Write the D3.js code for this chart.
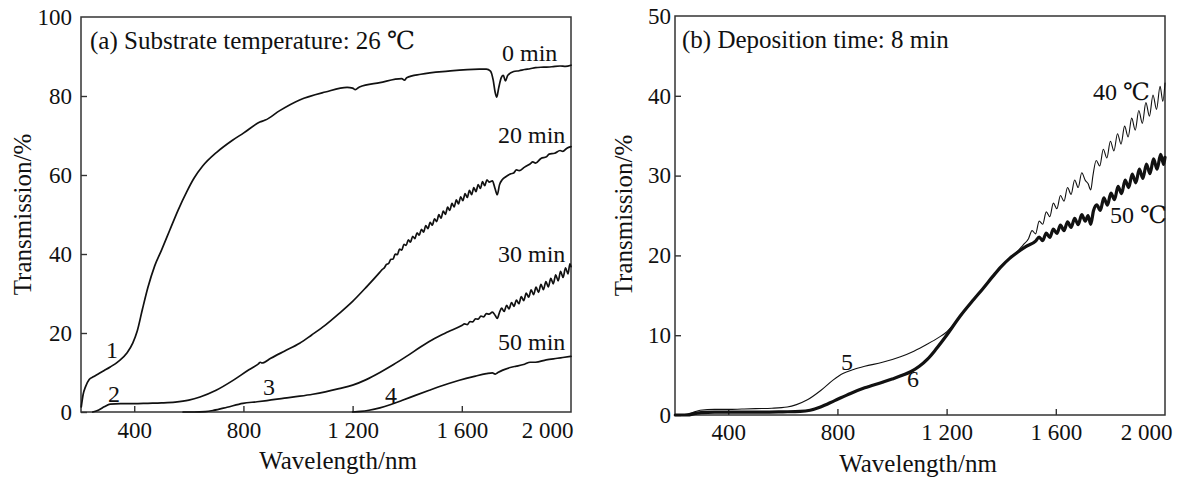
<!DOCTYPE html>
<html>
<head>
<meta charset="utf-8">
<script src="https://cdn.jsdelivr.net/npm/d3@7"></script>
<style>
  html, body { margin: 0; padding: 0; background: #fff; }
  svg { display: block; }
  text { font-family: "Liberation Serif", "DejaVu Serif", "Times New Roman", serif; fill: #111; }
</style>
</head>
<body>
<svg id="chart" width="1182" height="479"></svg>
<script>
// ---------- data ----------
const xTicks = [400, 800, 1200, 1600, 2000];
const xTickLabels = ["400", "800", "1 200", "1 600", "2 000"];
const yTicksA = [0, 20, 40, 60, 80, 100];
const yTicksB = [0, 10, 20, 30, 40, 50];

// Panel (a): substrate temperature 26 C  [wavelength nm, transmission %]
const seriesA0 = [[206,1.3],[213,4.5],[221,6.3],[235,8.2],[250,8.9],[265,9.5],[290,10.5],[312,11.4],[340,12.7],[374,15],[395,17.5],[411,20.5],[430,26],[450,31.5],[475,37],[500,41],[530,46],[560,51],[594,56],[620,59.3],[650,62.2],[703,65.8],[760,68.8],[800,70.6],[860,73.4],[880,73.9],[933,76.3],[1006,79],[1100,81],[1180,82.2],[1200,82],[1210,81.6],[1225,82.3],[1300,83.4],[1380,84.4],[1390,84.0],[1398,84.6],[1450,85.5],[1550,86.3],[1664,86.8],[1690,86.8],[1705,86.3],[1715,84],[1722,81],[1728,79.7],[1735,82],[1745,84.7],[1752,85.2],[1760,83.8],[1768,85.2],[1790,86.2],[1810,86.4],[1830,86.7],[1850,86.9],[1870,87.2],[1900,87.3],[1930,87.4],[1960,87.6],[1980,87.5],[2000,87.8]];

const seriesA20 = [[248,0],[270,0.5],[290,1.3],[312,2],[350,2.1],[400,2.1],[450,2.2],[500,2.3],[550,2.5],[600,3],[641,3.8],[700,5.5],[762,8],[820,10.7],[855,12.2],[862,12.6],[868,12.4],[900,13.6],[950,15.4],[1006,17.4],[1050,19.5],[1100,22.0],[1150,24.9],[1200,28.0],[1250,31.6],[1300,35.4],
  [1308,36.05],[1316,36.5],[1324,37.35],[1332,37.6],[1340,38.65],[1348,38.7],[1356,39.95],[1364,39.85],[1372,41.25],[1380,40.95],[1388,42.45],[1396,42.15],[1404,43.6],[1412,43.0],[1420,44.5],[1428,43.9],[1436,45.35],[1444,44.75],[1452,46.25],[1460,45.55],[1468,47.2],[1476,46.4],[1484,48.0],[1492,47.3],[1500,48.9],[1508,48.2],[1516,49.95],[1524,49.05],[1532,50.85],[1540,50.05],[1548,51.85],[1556,51.05],[1564,52.8],[1572,51.9],[1580,53.7],[1588,52.7],[1596,54.5],[1604,53.5],[1612,55.3],[1620,54.3],[1628,56.1],[1636,55.0],[1644,56.8],[1652,55.8],[1660,57.6],[1668,56.6],[1676,58.3],[1684,57.3],[1692,58.8],[1700,58.2],[1712,58.5],[1722,56.5],[1730,55.0],[1738,57.5],[1748,58.8],[1760,59.5],[1780,60.3],[1790,60.5],[1800,61.3],[1810,61.1],[1830,62.0],[1850,62.8],[1860,63.3],[1870,63.0],[1890,64.2],[1910,64.6],[1920,65.3],[1940,65.5],[1960,66.2],[1970,66.0],[1985,66.8],[2000,67.2]];

const seriesA30 = [[579,0],[620,0],[660,0.1],[690,0.4],[740,1.2],[798,2.2],[850,2.6],[886,2.9],[950,3.5],[1006,4.0],[1054,4.5],[1100,5.1],[1150,5.9],[1200,6.8],[1250,8.2],[1300,10.0],[1350,12.0],[1400,14.2],[1450,16.5],[1500,18.6],[1550,20.3],[1600,21.9],[1610,22.3],[1620,22.1],[1630,22.9],[1640,22.8],[1650,23.6],[1660,23.5],[1670,24.3],[1680,24.1],[1690,24.9],[1700,24.8],[1712,25.3],[1722,24.5],[1730,23.7],[1738,25.2],
  [1746,26.3],[1755,25.45],[1764,27.0],[1773,26.1],[1782,27.7],[1791,26.75],[1800,28.35],[1809,27.4],[1818,29.2],[1827,28.2],[1836,30.1],[1845,29.05],[1854,30.9],[1863,29.7],[1872,31.6],[1881,30.3],[1890,32.3],[1899,30.95],[1908,33.0],[1917,31.65],[1926,33.85],[1935,32.45],[1944,34.7],[1953,33.2],[1962,35.6],[1971,34.05],[1980,36.5],[1989,34.95],[1996,37.5],[2000,36.8]];

const seriesA50 = [[1200,0],[1230,0.15],[1260,0.45],[1300,1.05],[1340,1.9],[1380,2.9],[1430,4.2],[1481,5.5],[1530,6.7],[1570,7.6],[1616,8.5],[1650,9.1],[1690,9.7],[1712,9.9],[1722,9.6],[1730,9.9],[1750,10.6],[1785,11.4],[1800,11.6],[1830,12.1],[1850,12.6],[1870,12.6],[1909,13.2],[1950,13.6],[1970,13.8],[2000,14.1]];

// Panel (b): deposition time 8 min
const seriesB40 = [[206,0],[240,0.05],[270,0.3],[297,0.6],[350,0.7],[400,0.7],[450,0.75],[500,0.8],[560,0.85],[616,1.0],[650,1.3],[690,1.9],[740,3.1],[785,4.4],[820,5.2],[859,5.7],[900,6.1],[965,6.6],[1031,7.3],[1080,8.0],[1130,8.9],[1170,9.7],[1200,10.4],[1230,11.5],[1260,12.8],[1300,14.5],[1332,15.8],[1370,17.4],[1400,18.6],[1430,19.6],[1460,20.5],[1480,21.3],[1500,22.1],
  [1513,23.1],[1526,22.7],[1539,24.3],[1552,23.9],[1565,25.45],[1578,24.85],[1591,26.55],[1604,25.85],[1617,27.5],[1630,26.8],[1643,28.5],[1656,27.65],[1669,29.45],[1682,28.5],[1695,30.35],[1708,29.4],[1718,29.0],[1728,28.2],[1736,30.0],[1748,31.9],[1761,31.2],[1774,33.3],[1787,32.2],[1800,34.3],[1813,33.1],[1826,35.25],[1839,33.95],[1852,36.2],[1865,34.85],[1878,37.2],[1891,35.7],[1904,38.15],[1917,36.55],[1930,39.15],[1943,37.45],[1956,40.1],[1969,38.3],[1982,41.2],[1992,39.3],[2000,41.6]];

const seriesB50 = [[206,0],[250,0],[280,0.2],[300,0.3],[350,0.35],[400,0.35],[500,0.35],[600,0.4],[664,0.45],[700,0.6],[738,1.0],[790,1.8],[848,2.7],[900,3.4],[965,4.1],[1000,4.5],[1040,5.0],[1070,5.45],[1100,6.1],[1130,7.0],[1160,8.2],[1196,9.8],[1250,12.4],[1300,14.5],[1332,15.8],[1370,17.4],[1400,18.6],[1430,19.6],[1460,20.4],[1490,21.1],[1526,21.8],
  [1539,22.3],[1552,21.85],[1565,22.8],[1578,22.25],[1591,23.3],[1604,22.75],[1617,23.8],[1630,23.1],[1643,24.2],[1656,23.5],[1669,24.65],[1682,23.85],[1695,25.1],[1708,24.3],[1718,25.0],[1728,23.9],[1738,25.6],[1750,26.35],[1763,25.65],[1776,27.2],[1789,26.3],[1802,27.8],[1815,27.0],[1828,28.65],[1841,27.75],[1854,29.45],[1867,28.5],[1880,30.2],[1893,29.1],[1906,30.8],[1919,29.65],[1932,31.45],[1945,30.25],[1958,32.1],[1971,30.8],[1984,32.65],[1995,31.4],[2000,32.3]];

const xDomain = [205, 2000];

// ---------- drawing ----------
const svg = d3.select("#chart");

function panel(cfg) {
  const x = d3.scaleLinear().domain(xDomain).range([cfg.x0, cfg.x1]);
  const y = d3.scaleLinear().domain(cfg.yDomain).range([cfg.y0, cfg.y1]);
  const g = svg.append("g");

  const ya = g.append("g").attr("transform", `translate(${cfg.x0},0)`)
    .call(d3.axisLeft(y).tickValues(cfg.yTicks).tickSizeInner(-6).tickSizeOuter(0).tickPadding(cfg.yPad));
  ya.select(".domain").remove();
  ya.selectAll(".tick line").attr("stroke", "#333").attr("stroke-width", 1.4);
  ya.selectAll(".tick text").attr("font-size", 23).attr("fill", "#111")
    .style("font-family", '"Liberation Serif", "DejaVu Serif", serif');
  ya.selectAll(".tick").filter(d => d === cfg.yDomain[1]).select("line").remove();

  const xa = g.append("g").attr("transform", `translate(0,${cfg.y0})`)
    .call(d3.axisBottom(x).tickValues(xTicks).tickFormat((d, i) => xTickLabels[i]).tickSizeInner(-6).tickSizeOuter(0).tickPadding(cfg.xPad));
  xa.select(".domain").remove();
  xa.selectAll(".tick line").attr("stroke", "#333").attr("stroke-width", 1.4);
  xa.selectAll(".tick text").attr("font-size", 23).attr("fill", "#111")
    .style("font-family", '"Liberation Serif", "DejaVu Serif", serif');
  xa.selectAll(".tick").filter(d => d === 2000).each(function () {
    d3.select(this).select("line").remove();
    d3.select(this).select("text").attr("text-anchor", "end").attr("x", cfg.lastShift);
  });

  g.append("rect").attr("x", cfg.x0).attr("y", cfg.y1)
    .attr("width", cfg.x1 - cfg.x0).attr("height", cfg.y0 - cfg.y1)
    .attr("fill", "none").attr("stroke", "#333").attr("stroke-width", 1.5);

  const line = d3.line().x(d => x(d[0])).y(d => y(d[1])).curve(d3.curveMonotoneX);
  cfg.series.forEach(s => {
    g.append("path").datum(s.data).attr("d", line)
      .attr("fill", "none").attr("stroke", "#111").attr("stroke-width", s.w)
      .attr("stroke-linejoin", "round").attr("stroke-linecap", "round");
  });

  g.append("text").attr("x", cfg.xTitleX).attr("y", cfg.xTitleY).attr("text-anchor", "middle")
    .attr("font-size", 25).text("Wavelength/nm");
  g.append("text").attr("transform", `translate(${cfg.yTitleX},${(cfg.y0 + cfg.y1) / 2}) rotate(-90)`)
    .attr("text-anchor", "middle").attr("font-size", 25).text("Transmission/%");

  cfg.labels.forEach(l => {
    g.append("text").attr("x", l.x).attr("y", l.y).attr("font-size", l.size || 24)
      .attr("text-anchor", l.anchor || "start").text(l.t);
  });
}

panel({
  x0: 81, x1: 571, y0: 412, y1: 17, yDomain: [0, 100], yTicks: yTicksA, yPad: 9, xPad: 10, lastShift: 2,
  xTitleX: 338, xTitleY: 469, yTitleX: 31,
  series: [{data: seriesA0, w: 1.7}, {data: seriesA20, w: 1.7}, {data: seriesA30, w: 1.7}, {data: seriesA50, w: 1.7}],
  labels: [
    {t: "(a)  Substrate temperature: 26 \u2103", x: 90, y: 49, size: 25},
    {t: "0 min", x: 502, y: 61},
    {t: "20 min", x: 498, y: 143},
    {t: "30 min", x: 498, y: 262},
    {t: "50 min", x: 498, y: 350},
    {t: "1", x: 106, y: 358},
    {t: "2", x: 108, y: 402},
    {t: "3", x: 263, y: 395},
    {t: "4", x: 385, y: 403}
  ]
});

panel({
  x0: 675, x1: 1165, y0: 415, y1: 16, yDomain: [0, 50], yTicks: yTicksB, yPad: 4, xPad: 9, lastShift: 7,
  xTitleX: 918, xTitleY: 472, yTitleX: 632,
  series: [{data: seriesB40, w: 1.1}, {data: seriesB50, w: 3.2}],
  labels: [
    {t: "(b)  Deposition time: 8 min", x: 682, y: 48, size: 25},
    {t: "40 \u2103", x: 1093, y: 100},
    {t: "50 \u2103", x: 1110, y: 223},
    {t: "5", x: 841, y: 370},
    {t: "6", x: 907, y: 387}
  ]
});
</script>
</body>
</html>
